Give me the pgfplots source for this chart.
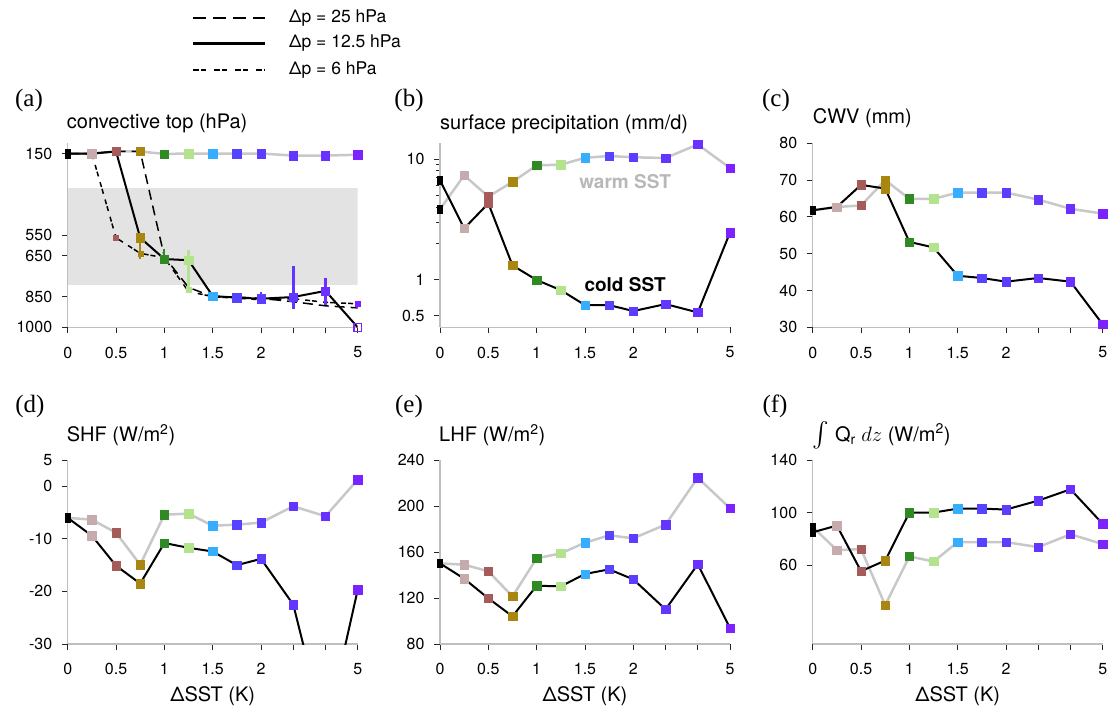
\documentclass[border=0pt]{standalone}
\usepackage{pgfplots}
\usepackage{pgfplotstable}
\pgfplotsset{compat=1.18}
\usepackage{exscale}
\usepackage{fontspec}
\setmainfont{TeX Gyre Heros}
\newfontfamily\seriffont{Liberation Serif}

\definecolor{c0}{HTML}{000000}
\definecolor{c1}{HTML}{C5ABAB}
\definecolor{c2}{HTML}{A65B5B}
\definecolor{c3}{HTML}{A8860F}
\definecolor{c4}{HTML}{2F8A24}
\definecolor{c5}{HTML}{B4E38E}
\definecolor{c6}{HTML}{35AEFF}
\definecolor{c7}{HTML}{5543FF}
\definecolor{c8}{HTML}{5A3DFF}
\definecolor{c9}{HTML}{6236FF}
\definecolor{c10}{HTML}{6A30FF}
\definecolor{c11}{HTML}{7B22FF}
\definecolor{warmgray}{HTML}{C8C8C8}

\pgfdeclareplotmark{narrowsq}{%
  \pgfpathrectangle{\pgfpoint{-2.4pt}{-4.3pt}}{\pgfpoint{4.8pt}{8.6pt}}%
  \pgfusepathqfillstroke}

\pgfplotstableread{
x      warm  solid  long  short k
0      150   150    150   150   k0
0.25   150   150    150   150   k1
0.5    140   140    140   562   k2
0.75   140   562    140   638   k3
1      152   666    655   660   k4
1.25   150   672    805   825   k5
1.5    150   847    850   850   k6
1.75   150   855    852   858   k7
2      150   860    858   865   k8
2.3333 160   852    875   860   k9
2.6667 160   822    895   878   k10
3      156   1000   905   885   k11
}\tabA
\pgfplotstableread{
x      warm  cold  k
0      3.84  6.69  k0
0.25   7.36  2.66  k1
0.5    4.9   4.3   k2
0.75   6.49  1.31  k3
1      8.91  0.99  k4
1.25   9.03  0.815 k5
1.5    10.3  0.612 k6
1.75   10.66 0.612 k7
2      10.4  0.546 k8
2.3333 10.26 0.624 k9
2.6667 13.3  0.532 k10
3      8.47  2.46  k11
}\tabB
\pgfplotstableread{
x      warm  cold  k
0      61.8  61.8  k0
0.25   62.7  62.7  k1
0.5    63.1  68.7  k2
0.75   70.0  67.7  k3
1      64.9  53.2  k4
1.25   64.9  51.7  k5
1.5    66.6  44.0  k6
1.75   66.6  43.4  k7
2      66.6  42.4  k8
2.3333 64.7  43.4  k9
2.6667 62.2  42.4  k10
3      60.9  30.8  k11
}\tabC
\pgfplotstableread{
x      warm  cold  k
0      -6.0  -6.0  k0
0.25   -6.35 -9.4  k1
0.5    -8.83 -15.1 k2
0.75   -14.9 -18.5 k3
1      -5.4  -10.8 k4
1.25   -5.2  -11.7 k5
1.5    -7.5  -12.4 k6
1.75   -7.3  -15.0 k7
2      -6.9  -13.8 k8
2.3333 -3.8  -22.5 k9
2.6667 -5.7  -47   k10
3      1.27  -19.7 k11
}\tabD
\pgfplotstableread{
x      warm  cold  k
0      150.1 150.1 k0
0.25   149.0 136.8 k1
0.5    143.2 119.7 k2
0.75   121.4 104.1 k3
1      154.5 130.7 k4
1.25   158.8 130.1 k5
1.5    168.1 140.9 k6
1.75   174.5 144.9 k7
2      171.9 136.2 k8
2.3333 183.8 110.1 k9
2.6667 224.6 149.3 k10
3      198.0 93.9  k11
}\tabE
\pgfplotstableread{
x      warm  cold  k
0      89    85    k0
0.25   71.4  90.1  k1
0.5    72.2  55.4  k2
0.75   29.6  63.5  k3
1      66.6  100   k4
1.25   62.8  100   k5
1.5    77.5  103   k6
1.75   77.5  103   k7
2      77.5  102.3 k8
2.3333 73.7  109.1 k9
2.6667 83.5  117.7 k10
3      76    91.4  k11
}\tabF

\pgfplotsset{
  panel/.style={
    scale only axis, width=290pt, height=184pt,
    axis lines*=left,
    axis line style={draw=black!25, line width=1.5pt},
    xmin=0, xmax=3,
    xtick={0,0.5,1,1.5,2,2.3333,2.6667,3},
    xticklabels={0,0.5,1,1.5,2,,,5},
    tick align=outside, major tick length=6pt, minor tick length=4pt,
    tick style={black!85, line width=1pt},
    tick label style={font=\fontsize{16}{19}\selectfont},
    xticklabel style={yshift=-10pt},
    yticklabel style={xshift=-6pt},
  },
  warmline/.style={draw=warmgray, line width=2.5pt, no marks},
  coldline/.style={draw=black, line width=2pt, no marks},
  sq/.style={scatter, only marks, scatter src=explicit symbolic, mark=square*,
    mark size=4.2pt,
    scatter/classes={
      k0={mark=narrowsq,draw=c0,fill=c0},
      k1={mark=square*,draw=c1,fill=c1},
      k2={mark=square*,draw=c2,fill=c2},
      k3={mark=square*,draw=c3,fill=c3},
      k4={mark=square*,draw=c4,fill=c4},
      k5={mark=square*,draw=c5,fill=c5},
      k6={mark=square*,draw=c6,fill=c6},
      k7={mark=square*,draw=c7,fill=c7},
      k8={mark=square*,draw=c8,fill=c8},
      k9={mark=square*,draw=c9,fill=c9},
      k10={mark=square*,draw=c10,fill=c10},
      k11={mark=square*,draw=c11,fill=c11}}},
}

\newcommand{\ttl}[1]{{\fontsize{20}{23}\selectfont #1}}
\newcommand{\plab}[1]{{\seriffont\fontsize{25}{28}\selectfont #1}}

\begin{document}
\begin{tikzpicture}
\path[use as bounding box] (0,0) rectangle (1110pt,710pt);

% legend
\draw[black, line width=1.6pt, dash pattern=on 13pt off 7pt] (193pt,691.7pt) -- (265pt,691.7pt);
\draw[black, line width=2.6pt] (193pt,666.7pt) -- (265pt,666.7pt);
\draw[black, line width=1.6pt, dash pattern=on 6pt off 2pt on 5pt off 8pt] (193pt,640pt) -- (265pt,640pt);
\node[anchor=west, inner sep=0pt, font=\fontsize{17.5}{20}\selectfont] at (289pt,691.7pt) {Δp = 25 hPa};
\node[anchor=west, inner sep=0pt, font=\fontsize{17.5}{20}\selectfont] at (289pt,666.7pt) {Δp = 12.5 hPa};
\node[anchor=west, inner sep=0pt, font=\fontsize{17.5}{20}\selectfont] at (289pt,640pt) {Δp = 6 hPa};

% panel labels and titles
\node at (29pt,610pt) {\plab{(a)}};
\node at (409pt,610pt) {\plab{(b)}};
\node at (776pt,610pt) {\plab{(c)}};
\node at (30pt,303.3pt) {\plab{(d)}};
\node at (409pt,303.3pt) {\plab{(e)}};
\node at (775pt,303.3pt) {\plab{(f)}};
\node[anchor=west, inner sep=0pt] at (66.7pt,587pt) {\ttl{convective top (hPa)}};
\node[anchor=west, inner sep=0pt] at (440pt,586pt) {\ttl{surface precipitation (mm/d)}};
\node[anchor=west, inner sep=0pt] at (812.7pt,592pt) {\ttl{CWV (mm)}};
\node[anchor=west, inner sep=0pt] at (66.7pt,275pt) {\ttl{SHF (W/m\textsuperscript{2})}};
\node[anchor=west, inner sep=0pt] at (439pt,275pt) {\ttl{LHF (W/m\textsuperscript{2})}};
\node[anchor=west, inner sep=0pt] at (812.7pt,275pt) {\ttl{{\fontsize{24}{26}\selectfont$\int$} Q\textsubscript{r} $dz$ (W/m\textsuperscript{2})}};
\node at (212.7pt,14pt) {\ttl{ΔSST (K)}};
\node at (585pt,14pt) {\ttl{ΔSST (K)}};
\node at (957.7pt,14pt) {\ttl{ΔSST (K)}};

% (a)
\begin{axis}[panel, at={(67.7pt,382.7pt)}, y dir=reverse, ymin=100, ymax=1000,
  ytick={150,550,650,850,1000}, yticklabels={150,550,650,850,1000}]
\addplot[draw=none, fill=black!11] coordinates {(0,318) (3,318) (3,793) (0,793)} -- cycle;
\addplot[warmline] table[x=x,y=warm] \tabA;
\addplot[black, line width=1.5pt, no marks, dash pattern=on 10pt off 6pt] table[x=x,y=long] \tabA;
\addplot[black, line width=1.5pt, no marks, dash pattern=on 5pt off 2pt on 5pt off 6pt] table[x=x,y=short] \tabA;
\addplot[coldline] table[x=x,y=solid] \tabA;
\addplot[c3, line width=2pt] coordinates {(0.75,562) (0.75,666)};
\addplot[c4, line width=2pt] coordinates {(1,617) (1,690)};
\addplot[c5, line width=3pt] coordinates {(1.25,622) (1.25,834)};
\addplot[c7, line width=2pt] coordinates {(1.75,842) (1.75,874)};
\addplot[c8, line width=2pt] coordinates {(2,829) (2,883)};
\addplot[c9, line width=3pt] coordinates {(2.3333,700) (2.3333,912)};
\addplot[c10, line width=3pt] coordinates {(2.6667,757) (2.6667,891)};
\addplot[c11, line width=3pt] coordinates {(3,872) (3,905)};
\addplot[sq] table[x=x,y=warm,meta=k] \tabA;
\addplot[sq] table[x=x,y=solid,meta=k] {
x      solid  k
0.75   562    k3
1      666    k4
1.25   672    k5
1.5    847    k6
1.75   855    k7
2      860    k8
2.3333 852    k9
2.6667 822    k10
};
\addplot[sq, mark size=2.5pt] table[x=x,y=short,meta=k] {
x      short  k
0.5    562    k2
0.75   638    k3
1.25   815    k5
3      885    k11
};
\addplot[only marks, mark=square, mark size=3.8pt, mark options={draw=c11, line width=1.2pt, fill=white}] coordinates {(3,1000)};
\end{axis}

% (b)
\begin{axis}[panel, at={(440pt,382.7pt)}, ymode=log, ymin=0.4, ymax=13.6,
  ytick={0.5,1,10}, yticklabels={0.5,1,10}, minor ytick={2,3,4,5,6,7,8,9}]
\addplot[warmline] table[x=x,y=warm] \tabB;
\addplot[coldline] table[x=x,y=cold] \tabB;
\addplot[sq] table[x=x,y=warm,meta=k] \tabB;
\addplot[sq] table[x=x,y=cold,meta=k] \tabB;
\node[font=\fontsize{19}{22}\selectfont\bfseries, text=black!28] at (axis cs:1.915,6.47) {warm SST};
\node[font=\fontsize{19}{22}\selectfont\bfseries] at (axis cs:1.915,0.914) {cold SST};
\end{axis}

% (c)
\begin{axis}[panel, at={(812.7pt,382.7pt)}, ymin=30, ymax=80,
  ytick={30,40,50,60,70,80}, yticklabels={30,40,50,60,70,80}]
\addplot[warmline] table[x=x,y=warm] \tabC;
\addplot[coldline] table[x=x,y=cold] \tabC;
\addplot[sq] table[x=x,y=warm,meta=k] \tabC;
\addplot[sq] table[x=x,y=cold,meta=k] \tabC;
\end{axis}

% (d)
\begin{axis}[panel, at={(67.7pt,66pt)}, ymin=-30, ymax=5,
  ytick={-30,-20,-10,0,5}, yticklabels={-30,-20,-10,0,5}]
\addplot[warmline] table[x=x,y=warm] \tabD;
\addplot[coldline] table[x=x,y=cold] \tabD;
\addplot[sq] table[x=x,y=warm,meta=k] \tabD;
\addplot[sq, restrict y to domain=-30:10] table[x=x,y=cold,meta=k] \tabD;
\end{axis}

% (e)
\begin{axis}[panel, at={(440pt,66pt)}, ymin=80, ymax=240,
  ytick={80,120,160,200,240}, yticklabels={80,120,160,200,240}]
\addplot[warmline] table[x=x,y=warm] \tabE;
\addplot[coldline] table[x=x,y=cold] \tabE;
\addplot[sq] table[x=x,y=warm,meta=k] \tabE;
\addplot[sq] table[x=x,y=cold,meta=k] \tabE;
\end{axis}

% (f)
\begin{axis}[panel, at={(812.7pt,66pt)}, ymin=0, ymax=140,
  ytick={60,100,140}, yticklabels={60,100,140}]
\addplot[warmline] table[x=x,y=warm] \tabF;
\addplot[coldline] table[x=x,y=cold] \tabF;
\addplot[sq] table[x=x,y=warm,meta=k] \tabF;
\addplot[sq] table[x=x,y=cold,meta=k] \tabF;
\end{axis}
\end{tikzpicture}
\end{document}
